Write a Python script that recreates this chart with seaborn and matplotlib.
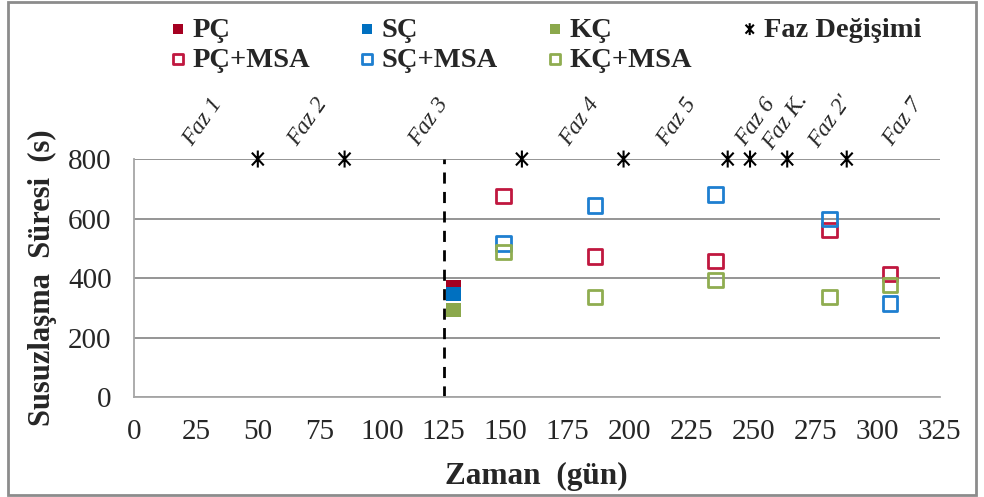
import matplotlib
matplotlib.use('Agg')

import numpy as np
import pandas as pd
import matplotlib.pyplot as plt
from matplotlib.patches import Rectangle
from matplotlib.path import Path
import seaborn as sns

# --- data ---
pc_x = [129]
pc_y = [370]
sc_x = [129]
sc_y = [346]
kc_x = [129]
kc_y = [292]

pc_msa_x = [149, 186, 234.5, 280.5, 305]
pc_msa_y = [676, 472, 457, 561, 413]
sc_msa_x = [149, 186, 234.5, 280.5, 305]
sc_msa_y = [517, 643, 680, 598, 314]
kc_msa_x = [149, 186, 234.5, 280.5, 305]
kc_msa_y = [487, 337, 393, 337, 377]

faz_change_x = [50, 85, 156.5, 197.5, 239.5, 248.5, 263.5, 287.5]
faz_change_y = [800] * len(faz_change_x)

faz_labels = ['Faz 1', 'Faz 2', 'Faz 3', 'Faz 4', 'Faz 5', 'Faz 6', 'Faz K.', "Faz 2'", 'Faz 7']
faz_label_x = [28, 70, 119, 180, 219, 251, 263, 281, 310]

x_ticks = list(range(0, 326, 25))
y_ticks = [0, 200, 400, 600, 800]

red = '#A50021'
blue = '#0070C0'
green = '#8BA84C'
red_o = '#C0173F'
blue_o = '#1E7FD0'
green_o = '#8FAD50'

# excel style asterisk: X with a vertical bar
star = Path([(0, -1), (0, 1), (-0.7, -0.75), (0.7, 0.75), (-0.7, 0.75), (0.7, -0.75)],
            [Path.MOVETO, Path.LINETO, Path.MOVETO, Path.LINETO, Path.MOVETO, Path.LINETO])

sns.set_style('white')
plt.rcParams['font.family'] = ['Liberation Serif', 'DejaVu Serif']

fig = plt.figure(figsize=(9.84, 4.97), dpi=100)
ax = fig.add_axes([0.136, 0.201, 0.819, 0.479])

msz = 110

sns.scatterplot(x=pc_x, y=pc_y, marker='s', s=msz, color=red, edgecolor='none', label='PÇ', ax=ax, zorder=3)
sns.scatterplot(x=pc_msa_x, y=pc_msa_y, marker='s', s=msz, facecolor='none', edgecolor=red_o,
                linewidth=2, label='PÇ+MSA', ax=ax, zorder=3)
sns.scatterplot(x=sc_x, y=sc_y, marker='s', s=msz, color=blue, edgecolor='none', label='SÇ', ax=ax, zorder=3)
sns.scatterplot(x=sc_msa_x, y=sc_msa_y, marker='s', s=msz, facecolor='none', edgecolor=blue_o,
                linewidth=2, label='SÇ+MSA', ax=ax, zorder=3)
sns.scatterplot(x=kc_x, y=kc_y, marker='s', s=msz, color=green, edgecolor='none', label='KÇ', ax=ax, zorder=3)
sns.scatterplot(x=kc_msa_x, y=kc_msa_y, marker='s', s=msz, facecolor='none', edgecolor=green_o,
                linewidth=2, label='KÇ+MSA', ax=ax, zorder=3)
sns.scatterplot(x=faz_change_x, y=faz_change_y, marker=star, s=150, facecolor='none', edgecolor='black',
                linewidth=1.5, label='Faz Değişimi', ax=ax, zorder=4, clip_on=False)

# start of MSA dosing
ax.axvline(125, ymin=0, ymax=1, color='black', linestyle=(0, (4, 3)), linewidth=2, zorder=2)

# phase labels above the plot
for lbl, lx in zip(faz_labels, faz_label_x):
    ax.text(lx, 925, lbl, rotation=55, style='italic', fontsize=17,
            ha='center', va='center', clip_on=False)

ax.set_xlim(0, 325)
ax.set_ylim(0, 800)
ax.set_xticks(x_ticks)
ax.set_yticks(y_ticks)
ax.tick_params(axis='both', labelsize=21, length=0, pad=16)
ax.yaxis.grid(True, color='#8c8c8c', linewidth=1.3)
ax.xaxis.grid(False)
for s in ['top', 'right']:
    ax.spines[s].set_visible(False)
for s in ['left', 'bottom']:
    ax.spines[s].set_color('#a6a6a6')
    ax.spines[s].set_linewidth(1.3)

ax.set_xlabel('Zaman  (gün)', fontsize=22.5, fontweight='bold', labelpad=12)
ax.set_ylabel('Susuzlaşma  Süresi  (s)', fontsize=22, fontweight='bold', labelpad=8)

handles, labels = ax.get_legend_handles_labels()
ax.get_legend().remove()
fig.legend(handles, labels, loc='upper left', bbox_to_anchor=(0.146, 1.018), ncol=4,
           frameon=False, prop={'weight': 'bold', 'size': 20.5}, handletextpad=0.2,
           columnspacing=1.72, labelspacing=0.15, markerscale=0.7, handlelength=0.6)

# outer chart border
fig.patches.append(Rectangle((0.008, 0.004), 0.984, 0.992, transform=fig.transFigure,
                             fill=False, edgecolor='#8c8c8c', linewidth=2))

plt.savefig('out.png', dpi=100)
